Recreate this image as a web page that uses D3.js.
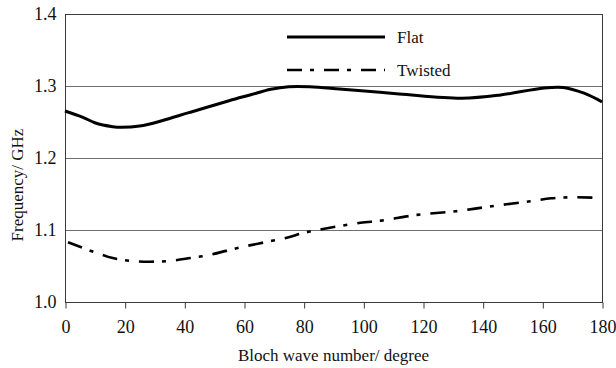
<!DOCTYPE html>
<html>
<head>
<meta charset="utf-8">
<script src="https://cdn.jsdelivr.net/npm/d3@7"></script>
<style>
  body { margin: 0; background: #fff; }
  svg, svg text { font-family: "Times New Roman", "Liberation Serif", "DejaVu Serif", serif !important; }
</style>
</head>
<body>
<div id="chart"></div>
<script>
const W = 616, H = 368;
const MARGIN = { LEFT: 65, RIGHT: 14, TOP: 14, BOTTOM: 66 };
const WIDTH = W - MARGIN.LEFT - MARGIN.RIGHT;
const HEIGHT = H - MARGIN.TOP - MARGIN.BOTTOM;
const SERIF = '"Times New Roman", "Liberation Serif", "DejaVu Serif", serif';

// data
const flatDeg = [0, 6, 10, 16, 19, 25, 32.5, 41.5, 55, 62, 69, 75, 82, 92, 112, 133, 146, 160, 167, 174, 180];
const flatFreq = [1.2653, 1.2565, 1.249, 1.2435, 1.2426, 1.2444, 1.2518, 1.263, 1.2796, 1.2875, 1.2954, 1.299, 1.299, 1.296, 1.289, 1.283, 1.2875, 1.297, 1.298, 1.29, 1.278];
const twistDeg = [1, 10, 16, 22, 28.5, 35, 42, 48, 54, 60, 67, 74, 80, 86, 99, 106, 118, 131, 143, 156, 163, 170, 177];
const twistFreq = [1.083, 1.069, 1.061, 1.057, 1.056, 1.057, 1.061, 1.065, 1.071, 1.077, 1.083, 1.089, 1.096, 1.101, 1.11, 1.113, 1.121, 1.126, 1.133, 1.14, 1.144, 1.1454, 1.145];
const xTicks = [0, 20, 40, 60, 80, 100, 120, 140, 160, 180];
const yTicks = [1.0, 1.1, 1.2, 1.3, 1.4];
const seriesNames = ["Flat", "Twisted"];

const svg = d3.select("#chart").append("svg").attr("width", W).attr("height", H)
  .style("font-family", SERIF);
const g = svg.append("g").attr("transform", `translate(${MARGIN.LEFT}, ${MARGIN.TOP})`);

const x = d3.scaleLinear().domain([0, 180]).range([0, WIDTH]);
const y = d3.scaleLinear().domain([1.0, 1.4]).range([HEIGHT, 0]);

// gridlines
g.selectAll(".grid").data(yTicks.filter(d => d > 1.0 && d < 1.4)).enter()
  .append("line")
  .attr("x1", 0).attr("x2", WIDTH)
  .attr("y1", d => Math.round(y(d)) + 0.5).attr("y2", d => Math.round(y(d)) + 0.5)
  .attr("stroke", "#6e6e6e").attr("stroke-width", 1);

// frame
g.append("rect").attr("x", 0.5).attr("y", 0.5).attr("width", WIDTH).attr("height", HEIGHT)
  .attr("fill", "none").attr("stroke", "#3a3a3a").attr("stroke-width", 1);

// x axis
const xAxis = g.append("g").attr("transform", `translate(0.5, ${HEIGHT + 0.5})`)
  .call(d3.axisBottom(x).tickValues(xTicks).tickSize(6).tickPadding(12).tickFormat(d3.format("d")));
xAxis.attr("font-family", SERIF);
xAxis.select(".domain").remove();
xAxis.selectAll("line").attr("stroke", "#3a3a3a");
xAxis.selectAll("text").attr("font-size", 18).attr("fill", "#111");

// y axis
const yAxis = g.append("g").attr("transform", "translate(0.5, 0)")
  .call(d3.axisLeft(y).tickValues(yTicks).tickSize(0).tickPadding(9).tickFormat(d3.format(".1f")));
yAxis.attr("font-family", SERIF);
yAxis.select(".domain").remove();
yAxis.selectAll("text").attr("font-size", 18).attr("fill", "#111");

// axis titles
svg.append("text").attr("x", MARGIN.LEFT + WIDTH / 2).attr("y", 361)
  .attr("text-anchor", "middle").attr("font-size", 17).attr("fill", "#111")
  .text("Bloch wave number/ degree");
svg.append("text").attr("transform", `translate(23, ${MARGIN.TOP + HEIGHT / 2 + 27}) rotate(-90)`)
  .attr("text-anchor", "middle").attr("font-size", 17).attr("fill", "#111")
  .text("Frequency/ GHz");

// curves
const line = d3.line().x(d => x(d[0])).y(d => y(d[1])).curve(d3.curveCatmullRom.alpha(0.5));
const flat = flatDeg.map((d, i) => [d, flatFreq[i]]);
const twisted = twistDeg.map((d, i) => [d, twistFreq[i]]);

g.append("path").datum(flat).attr("d", line)
  .attr("fill", "none").attr("stroke", "#000").attr("stroke-width", 3);
g.append("path").datum(twisted).attr("d", line)
  .attr("fill", "none").attr("stroke", "#000").attr("stroke-width", 2.6)
  .attr("stroke-dasharray", "15,8,4,10");

// legend
const legend = svg.append("g");
const legY = [37, 70];
const dashes = [null, "15,8,4,10"];
seriesNames.forEach((name, i) => {
  legend.append("line").attr("x1", 287).attr("x2", 385).attr("y1", legY[i]).attr("y2", legY[i])
    .attr("stroke", "#000").attr("stroke-width", i === 0 ? 3 : 2.6)
    .attr("stroke-dasharray", dashes[i]);
  legend.append("text").attr("x", 397).attr("y", legY[i] + 6)
    .attr("font-size", 17).attr("fill", "#111").text(name);
});
</script>
</body>
</html>
